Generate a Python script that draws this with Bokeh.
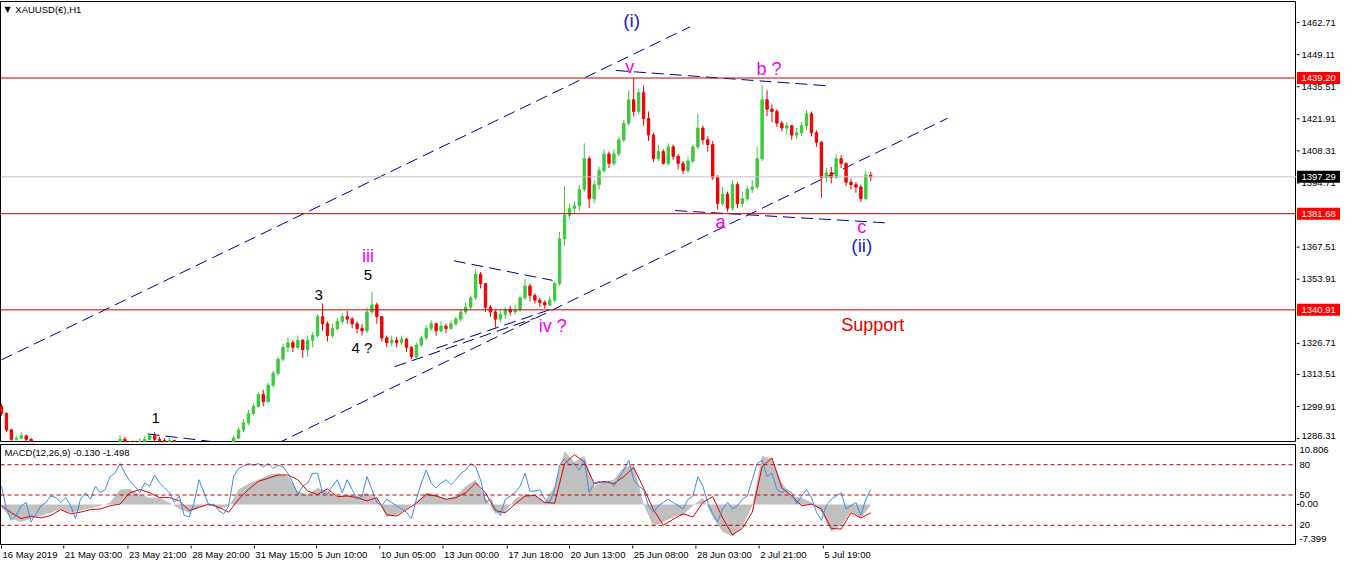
from bokeh.plotting import figure
from bokeh.models import Range1d, Label, Span, ColumnDataSource
from bokeh.layouts import gridplot
from bokeh.embed import file_html
from bokeh.resources import INLINE
from bokeh.core.properties import value

FONT = "Liberation Sans"

# ---------------- data ----------------
symbol_title = "XAUUSD(€),H1"
macd_title = "MACD(12,26,9) -0.130 -1.498"

bar_step = 5            # hourly bars per drawn candle
first_open = 1300.0
close = [
    1297, 1290, 1286, 1286.5, 1287.5, 1286, 1284, 1281, 1278, 1275,
    1273, 1274, 1272, 1271, 1273, 1275, 1276, 1278, 1277, 1279,
    1280, 1279, 1281, 1282.5, 1286, 1285, 1283, 1284, 1285, 1286,
    1287.5, 1286, 1285.5, 1285, 1285.5, 1283.5, 1281, 1279, 1276, 1277,
    1278, 1280, 1279, 1281, 1280, 1282, 1283.5, 1286.5, 1290, 1293,
    1297, 1300, 1305, 1302, 1309, 1314, 1320, 1325, 1327, 1325,
    1328, 1324, 1328, 1330, 1338, 1335, 1330, 1333, 1336, 1338,
    1337, 1335, 1333, 1332, 1340, 1343, 1338, 1329, 1327, 1328,
    1327, 1328.5, 1325, 1321, 1326, 1329, 1333, 1335, 1332, 1334,
    1333, 1335, 1337, 1340, 1342, 1346, 1356, 1352, 1342, 1340,
    1337, 1339, 1341, 1340, 1341, 1346, 1351, 1347, 1345, 1344,
    1343, 1345, 1352, 1371, 1381, 1384, 1385, 1392, 1405, 1388,
    1394, 1400, 1407, 1403, 1407, 1413, 1420, 1430, 1425, 1433,
    1422, 1415, 1405, 1408, 1403, 1410, 1406, 1403, 1400, 1404,
    1410, 1418, 1413, 1411, 1397, 1386, 1390, 1384, 1394, 1386,
    1388, 1392, 1393, 1405, 1430, 1426, 1425, 1420, 1418, 1419,
    1415, 1416, 1419, 1424, 1416, 1412, 1397, 1399, 1397, 1405,
    1403, 1395, 1394, 1393, 1388, 1398, 1397.29]
high = [
    1301, 1297.5, 1290.5, 1287.5, 1289, 1288, 1286.5, 1284, 1281, 1278.5,
    1276, 1275.5, 1275, 1273, 1274, 1276, 1278, 1279, 1280, 1280.5,
    1281.5, 1282, 1283, 1284, 1287.8, 1287, 1285, 1285.5, 1286.5, 1287.5,
    1288.5, 1289, 1287, 1286.5, 1286.5, 1285.5, 1284, 1282, 1279, 1279,
    1280, 1281, 1281.5, 1282.5, 1282, 1283.5, 1284.5, 1287.5, 1291, 1294.5,
    1298.5, 1301.5, 1306, 1307, 1310, 1315, 1321, 1326.5, 1329, 1328,
    1330, 1328.5, 1330, 1331.5, 1339, 1343.6, 1336, 1335, 1337.5, 1339.5,
    1340.5, 1338, 1336, 1335, 1342, 1348.5, 1344, 1338, 1330, 1330,
    1329.5, 1330, 1329, 1325.5, 1327, 1330, 1334.5, 1336.5, 1335.5, 1336,
    1335, 1336.5, 1338, 1341, 1344, 1347, 1358, 1357, 1352, 1343,
    1341, 1341, 1342, 1342.5, 1343, 1347, 1354, 1352, 1348, 1346,
    1345, 1346.5, 1353, 1374, 1393.3, 1386, 1387, 1394, 1411.5, 1406,
    1396, 1401.5, 1409, 1408, 1409, 1414.5, 1421.5, 1434, 1439.2, 1434.5,
    1436, 1425, 1416, 1411, 1409, 1411.5, 1411, 1407, 1404, 1406,
    1411, 1424, 1419, 1414.5, 1412.5, 1398, 1393, 1391, 1396, 1395,
    1391, 1393.5, 1396, 1410, 1436.2, 1434, 1428, 1426, 1421, 1420.5,
    1419, 1418, 1420.5, 1425.5, 1425, 1417, 1412.5, 1401, 1401.5, 1406.8,
    1406.5, 1403.5, 1396.5, 1395, 1394, 1400, 1399.5]
low = [
    1296, 1289, 1285, 1285, 1286, 1285, 1283, 1279, 1276, 1274,
    1271, 1272, 1270, 1269, 1270, 1272, 1274, 1275, 1276, 1276,
    1278, 1278, 1279, 1280, 1282, 1284, 1282, 1282, 1283, 1284,
    1285.5, 1285, 1284.5, 1284, 1284, 1282, 1280, 1277, 1275, 1274,
    1276, 1277, 1277, 1278, 1278.5, 1279, 1281, 1283, 1286, 1289,
    1292, 1296, 1299.5, 1300, 1301.5, 1308, 1313, 1319, 1323, 1323,
    1324, 1320.5, 1321, 1325, 1329, 1332, 1327.5, 1329, 1332, 1335,
    1335, 1333, 1331, 1330, 1331, 1339, 1335, 1327.5, 1325, 1325.5,
    1325, 1326, 1323, 1320, 1320.5, 1325, 1328, 1332, 1330, 1331.5,
    1331, 1332.5, 1334, 1336, 1339, 1341, 1345, 1350, 1340, 1338,
    1333, 1335.5, 1337, 1338.5, 1339, 1340, 1345, 1344.5, 1343.5, 1342,
    1341.5, 1342.5, 1344, 1351, 1368, 1379.5, 1381.5, 1383, 1391, 1384,
    1386, 1392, 1399, 1401, 1402, 1406, 1412, 1419, 1423, 1424,
    1419, 1412.5, 1403.5, 1404, 1402.5, 1402, 1404.5, 1400.5, 1398.5, 1399,
    1403, 1409, 1411, 1408, 1396, 1383.5, 1385, 1382.5, 1383, 1384,
    1384.5, 1387, 1390.5, 1392, 1404, 1423, 1420.5, 1418.5, 1416.5, 1415,
    1413, 1413.5, 1414.5, 1417, 1414.5, 1410, 1388.4, 1395, 1394.5, 1396.5,
    1401, 1393.5, 1392, 1390.5, 1386.7, 1387.5, 1395.5]

price_ticks = [1286.31, 1299.91, 1313.51, 1326.71, 1353.91, 1367.51,
               1394.71, 1408.31, 1421.91, 1435.51, 1449.11, 1462.71]
price_min, price_max = 1284.66, 1471.65
levels = [1439.20, 1381.68, 1340.91]
last_price = 1397.29

# trend lines (bar index, price)
trend_x0 = [0, 278, 622, 682, 458, 398, 440, 148]
trend_y0 = [1319.7, 1284.0, 1442.4, 1383.0, 1361.7, 1316.8, 1324.6, 1288.3]
trend_x1 = [697, 958, 840, 900, 558, 540, 556, 222]
trend_y1 = [1460.9, 1422.2, 1435.8, 1377.7, 1353.4, 1337.4, 1341.1, 1284.6]

# wave labels
wave_text = ["(i)", "v", "b ?", "a", "c", "(ii)", "iii", "5", "3", "4 ?", "1", "iv ?", "Support"]
wave_x = [638, 636, 777, 728, 871, 871, 371, 371, 321, 365, 156, 558, 882]
wave_y = [1463.8, 1444.0, 1443.2, 1378.1, 1376.1, 1368.3, 1363.7, 1355.5, 1347.3, 1325.0, 1295.0, 1334.1, 1334.5]
MAG = "#F000F0"
BLU = "#1A2AB8"
wave_color = [BLU, MAG, MAG, MAG, MAG, BLU, MAG, "black", "black", "black", "black", MAG, "#E00000"]
wave_size = ["19px", "18px", "18px", "18px", "18px", "19px", "18px", "15px", "15px", "15px", "15px", "18px", "18px"]

# MACD pane (values every 10 hourly bars)
macd_step = 10
macd_hist = [
    -0.52, -2.56, -3.15, -2.56, -1.98, -1.5, -0.81, -1.5, -1.10, -0.7,
    -0.23, 0.35, 2.69, 2.8, 1.81, 1.23, 1.23, 0.35, -0.81, -1.5,
    -0.52, 0.23, -0.81, -0.35, 2.69, 3.74, 4.44, 5.31, 5.61, 5.03,
    2.40, 1.81, 2.98, 2.40, 1.41, 1.81, 1.52, 2.11, 1.05, -2.27,
    -1.86, -0.81, 0.47, 2.11, 1.81, 0.94, 1.52, 3.27, 4.44, 1.23,
    -1.69, -1.39, 1.05, 1.81, 1.52, 0.47, 3.27, 9.57, 7.65, 8.8,
    3.27, 4.15, 4.44, 6.77, 7.07, 0.06, -4.02, -3.15, -2.27, -1.86,
    -0.23, 1.23, -2.27, -4.9, -5.77, -4.02, -0.23, 8.8, 8.23, 3.86,
    1.52, 1.23, 0.35, -1.39, -4.9, -3.73, -1.28, -2.44, -0.13]
macd_signal = [
    -0.23, -1.5, -2.56, -2.1, -2.44, -1.98, -0.93, -1.69, -1.39, -0.93,
    -0.81, -0.23, 0.06, 2.11, 2.69, 2.11, 1.23, 1.23, 0.65, -1.1,
    -0.52, 0.06, -0.52, -1.39, 0.94, 2.69, 4.15, 4.73, 5.31, 5.31,
    4.44, 2.40, 1.81, 2.8, 1.41, 1.52, 1.23, 0.65, 1.23, -1.86,
    -2.1, -0.93, 0.23, 1.81, 1.52, 0.94, 1.23, 2.11, 3.86, 2.11,
    -1.1, -1.5, 0.06, 1.52, 1.64, 0.35, 0.23, 7.36, 9.0, 7.65,
    3.74, 4.15, 3.74, 5.03, 6.65, 2.98, -0.93, -3.73, -2.68, -1.69,
    -2.27, 0.35, 1.41, -2.44, -5.48, -4.31, -1.39, 6.77, 8.4, 2.98,
    1.52, -0.23, 0.06, -0.81, -4.31, -4.43, -1.5, -2.44, -1.5]
# oscillator drawn on 0-100 scale (levels 80/50/20), every 5 bars
osc = [
    58.7, 36.2, 25.0, 29.8, 39.4, 42.6, 23.4, 31.4, 39.4, 42.6,
    49.0, 47.4, 42.6, 47.4, 39.4, 26.6, 45.8, 52.2, 45.8, 58.7,
    52.2, 55.4, 68.3, 71.5, 81.1, 71.5, 63.5, 58.7, 52.2, 61.9,
    58.7, 69.9, 61.9, 57.1, 52.2, 42.6, 49.0, 29.8, 28.2, 42.6,
    65.1, 52.2, 39.4, 41.0, 34.6, 31.4, 39.4, 68.3, 76.3, 78.5,
    81.1, 79.5, 81.1, 77.9, 81.1, 76.3, 79.5, 77.9, 71.5, 61.9,
    50.6, 58.7, 61.9, 71.5, 71.5, 52.2, 50.6, 58.7, 65.1, 52.2,
    65.1, 55.4, 45.8, 49.0, 68.3, 55.4, 42.6, 39.4, 45.8, 42.6,
    39.4, 36.2, 33.0, 26.6, 45.8, 61.9, 74.7, 61.9, 57.1, 61.9,
    65.1, 60.3, 65.1, 71.5, 74.7, 81.1, 77.9, 65.1, 42.6, 45.8,
    36.2, 29.8, 45.8, 49.0, 52.2, 58.7, 71.5, 53.8, 53.8, 55.4,
    45.8, 42.6, 55.4, 79.5, 85.9, 79.5, 81.1, 74.7, 84.3, 52.2,
    61.9, 63.5, 61.9, 63.5, 58.7, 66.7, 74.7, 84.3, 65.1, 58.7,
    55.4, 39.4, 33.0, 39.4, 42.6, 45.8, 42.6, 39.4, 36.2, 45.8,
    49.0, 68.3, 58.7, 42.6, 31.4, 23.4, 36.2, 42.6, 36.2, 39.4,
    45.8, 49.0, 65.1, 81.1, 84.3, 68.3, 71.5, 55.4, 52.2, 55.4,
    52.2, 41.0, 49.0, 55.4, 47.4, 33.0, 25.0, 39.4, 45.8, 49.0,
    52.2, 36.2, 39.4, 42.6, 29.8, 45.8, 55.4]
osc_levels = [80, 50, 20]
macd_min, macd_max = -7.399, 10.806
macd_label_pos = [9.75, 7.165, 1.7, 0.0, -3.758, -6.18]
macd_label_text = ["10.806", "80", "50", "0.00", "20", "-7.399"]

date_text = ["16 May 2019", "21 May 03:00", "23 May 21:00", "28 May 20:00", "31 May 15:00",
             "5 Jun 10:00", "10 Jun 05:00", "13 Jun 00:00", "17 Jun 18:00", "20 Jun 13:00",
             "25 Jun 08:00", "28 Jun 03:00", "2 Jul 21:00", "5 Jul 19:00"]
date_bar = [0, 63, 128, 192, 256, 319, 383, 447, 512, 575, 639, 703, 767, 832]

# ---------------- helpers ----------------
def base_fig(**kw):
    f = figure(output_backend="svg", toolbar_location=None,
               x_axis_location=None, y_axis_location=None,
               min_border_left=0, min_border_right=0, min_border_bottom=0,
               background_fill_color="white", border_fill_color="white", **kw)
    f.xgrid.visible = False
    f.ygrid.visible = False
    return f

XR = Range1d(-1, 1311)

# ---------------- price pane ----------------
p = base_fig(width=1296, height=442, min_border_top=1,
             x_range=XR, y_range=Range1d(price_min, price_max))
p.outline_line_color = "black"

for lv in levels:
    p.add_layout(Span(location=lv, dimension="width", line_color="#CC0000", line_width=1))
p.add_layout(Span(location=last_price, dimension="width", line_color="#C0C0C0", line_width=1))

p.segment(x0=trend_x0, y0=trend_y0, x1=trend_x1, y1=trend_y1,
          line_color="#000080", line_width=1, line_dash="12 6")

opens = [first_open] + close[:-1]
bars = [i * bar_step for i in range(len(close))]
colors = ["#3CC83C" if c >= o else "#F00000" for o, c in zip(opens, close)]
src = ColumnDataSource(dict(
    x=bars, h=high, l=low,
    top=[max(o, c) for o, c in zip(opens, close)],
    bottom=[min(o, c) for o, c in zip(opens, close)],
    color=colors))
p.segment(x0="x", y0="l", x1="x", y1="h", line_color="color", line_width=1, source=src)
p.vbar(x="x", width=2.4, top="top", bottom="bottom", fill_color="color", line_color="color", source=src)

for t, x, y, c, s in zip(wave_text, wave_x, wave_y, wave_color, wave_size):
    p.add_layout(Label(x=x, y=y, text=t, text_color=c, text_font=FONT, text_font_size=s,
                       text_align="center", text_baseline="middle"))

p.add_layout(Label(x=3, y=1468.4, text="▼", text_color="black", text_font="DejaVu Sans",
                   text_font_size="8px", text_align="left", text_baseline="middle"))
p.add_layout(Label(x=14, y=1468.4, text=symbol_title, text_color="black", text_font=FONT,
                   text_font_size="9.5px", text_align="left", text_baseline="middle"))

# right price scale (own strip sharing the price scale)
pa = base_fig(width=49, height=442, min_border_top=1,
              x_range=Range1d(0, 49), y_range=p.y_range)
pa.outline_line_color = None
pa.segment(x0=0, y0=price_ticks, x1=3, y1=price_ticks, line_color="black", line_width=1)
label_shift = [-3 if t == min(price_ticks) else 0 for t in price_ticks]
pa.text(x=5, y=price_ticks, text=[f"{t:.2f}" for t in price_ticks], y_offset=label_shift,
        text_font=value(FONT), text_font_size="9.5px", text_color="black",
        text_align="left", text_baseline="middle")
box_prices = levels + [last_price]
box_colors = ["#FF0000"] * len(levels) + ["black"]
pa.rect(x=22, y=box_prices, width=43, height=12, width_units="screen", height_units="screen",
        fill_color=box_colors, line_color=None)
pa.text(x=5, y=box_prices, text=[f"{v:.2f}" for v in box_prices],
        text_font=value(FONT), text_font_size="9.5px", text_color="white",
        text_align="left", text_baseline="middle")

# ---------------- MACD pane ----------------
p2 = base_fig(width=1296, height=103, min_border_top=2,
              x_range=XR, y_range=Range1d(macd_min, macd_max))
p2.extra_y_ranges = {"osc": Range1d(0, 100)}
p2.outline_line_color = "black"

for lv in osc_levels:
    p2.add_layout(Span(location=lv, dimension="width", y_range_name="osc",
                       line_color="#C00000", line_width=1, line_dash="4 3"))

mbars = [i * macd_step for i in range(len(macd_hist))]
p2.varea(x=mbars, y1=0, y2=macd_hist, fill_color="#C0C0C0")
p2.line(mbars, macd_signal, line_color="#E00000", line_width=1)
p2.line(bars, osc, y_range_name="osc", line_color="#3C8CE6", line_width=1)

p2.add_layout(Label(x=3, y=9.4, text=macd_title, text_color="black", text_font=FONT,
                    text_font_size="9.5px", text_align="left", text_baseline="middle"))

pa2 = base_fig(width=49, height=103, min_border_top=2,
               x_range=Range1d(0, 49), y_range=p2.y_range)
pa2.outline_line_color = None
pa2.segment(x0=0, y0=[0.0], x1=3, y1=[0.0], line_color="black", line_width=1)
pa2.text(x=3, y=macd_label_pos, text=macd_label_text,
         text_font=value(FONT), text_font_size="9.5px", text_color="black",
         text_align="left", text_baseline="middle")

# ---------------- time scale ----------------
pd_ = base_fig(width=1296, height=20, min_border_top=0,
               x_range=XR, y_range=Range1d(0, 20))
pd_.outline_line_color = None
pd_.segment(x0=date_bar, y0=20, x1=date_bar, y1=17, line_color="black", line_width=1)
pd_.text(x=date_bar, y=17, text=date_text, x_offset=1,
         text_font=value(FONT), text_font_size="9.5px", text_color="black",
         text_align="left", text_baseline="top")

layout = gridplot([[p, pa], [p2, pa2], [pd_, None]], toolbar_location=None)
open("out.html", "w").write(file_html(layout, INLINE))
